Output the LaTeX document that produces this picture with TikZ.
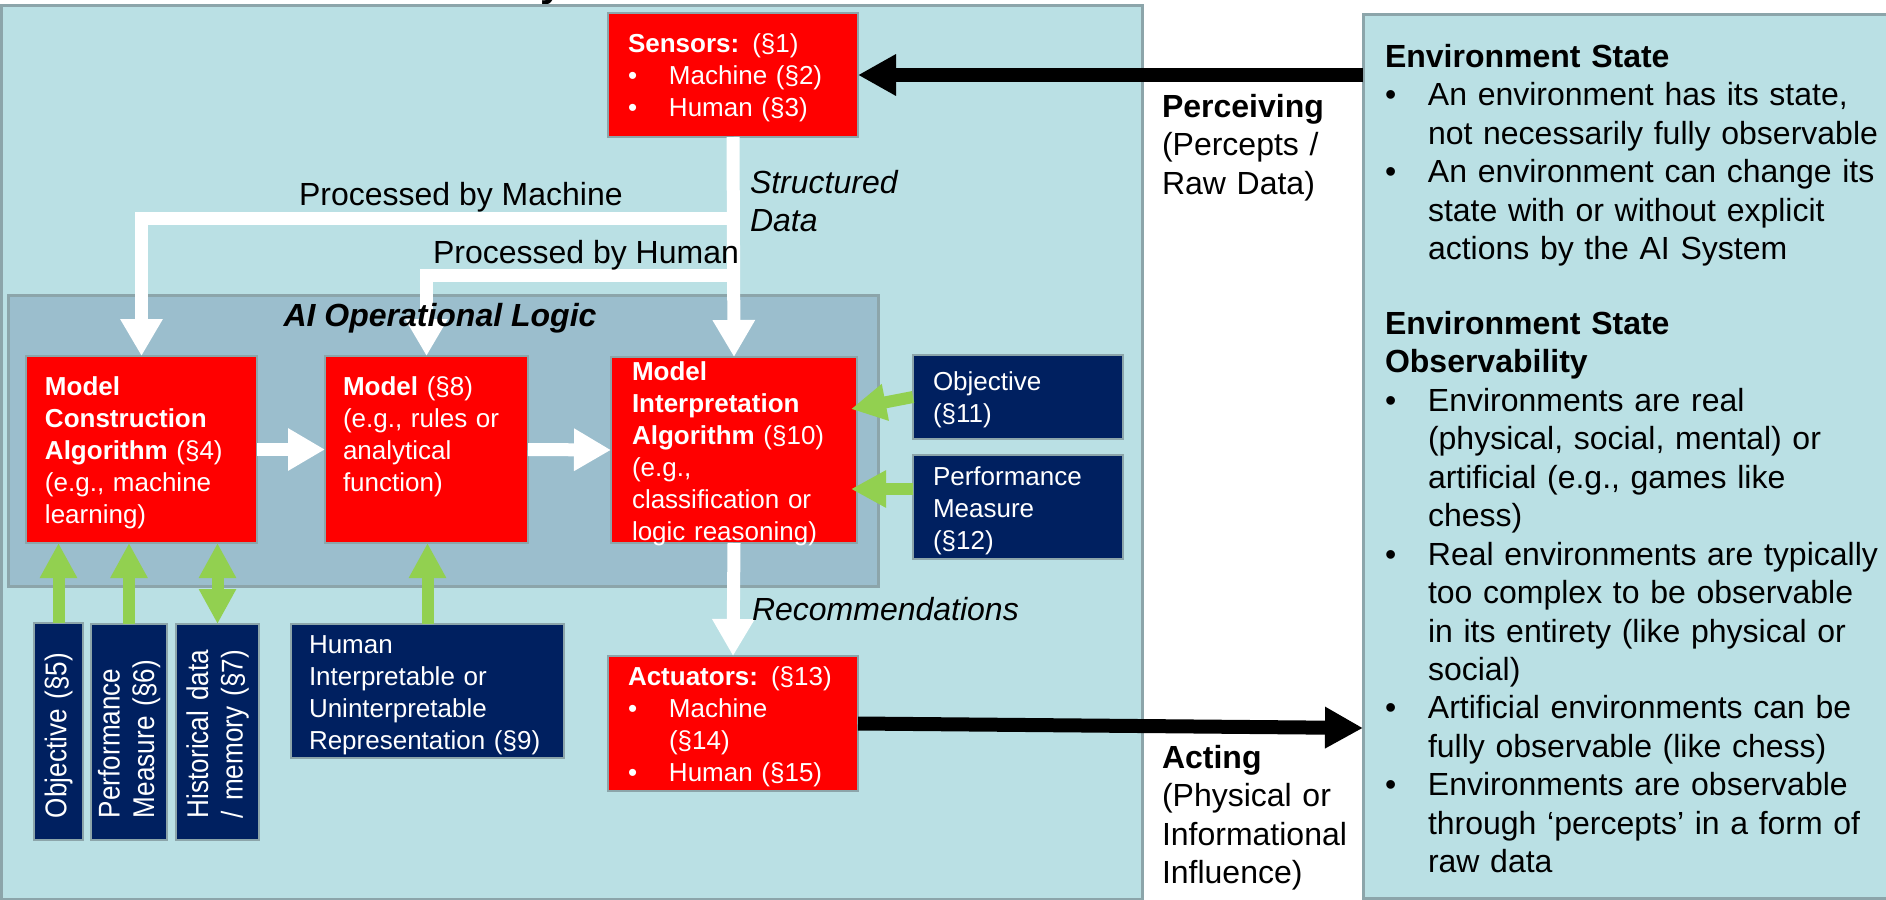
\documentclass[tikz,border=0pt]{standalone}
\usepackage{fontspec}
\setmainfont{Liberation Sans}
\newfontfamily\rotfont[FakeStretch=0.87]{Liberation Sans}
\usetikzlibrary{arrows.meta}
\definecolor{panelblue}{HTML}{BAE0E4}
\definecolor{opblue}{HTML}{9BBECD}
\definecolor{bordergray}{HTML}{8CA5AA}
\definecolor{navy}{HTML}{002060}
\definecolor{lgreen}{HTML}{92D050}
\definecolor{pptred}{HTML}{FF0000}
\newcommand\fbig{\fontsize{16pt}{19.25pt}\selectfont}
\newcommand\fsm{\fontsize{13pt}{16pt}\selectfont}
\newcommand\bulA{\makebox[20.5pt][l]{\textbullet}}
\newcommand\indA{\hspace*{20.5pt}}
\newcommand\bulB{\makebox[21.5pt][l]{\textbullet}}
\newcommand\indB{\hspace*{21.5pt}}
\begin{document}
\begin{tikzpicture}[x=0.5pt,y=-0.5pt,
  every node/.style={inner sep=0pt, outer sep=0pt},
  panel/.style={draw=bordergray, line width=1.5pt, fill=panelblue, rectangle, anchor=north west},
  opbox/.style={draw=bordergray, line width=1.5pt, fill=opblue, rectangle, anchor=north west},
  redbox/.style={draw=bordergray, line width=1pt, fill=pptred, rectangle, anchor=north west},
  navybox/.style={draw=bordergray, line width=1pt, fill=navy, rectangle, anchor=north west},
  wtext/.style={text=white, font=\fsm, align=left, anchor=base west, text width=#1},
  wtext/.default=120pt,
  rtext/.style={text=white, font=\rotfont\fontsize{15pt}{17.25pt}\selectfont, align=left, anchor=west, rotate=90, text width=100pt},
  btext/.style={font=\fbig, align=left, anchor=base west, text width=#1},
  btext/.default=120pt,
  lbl/.style={font=\fbig, anchor=base west},
  warrow/.style={draw=white, line width=6.5pt, line join=miter, -{Triangle[length=18.5pt,width=20pt]}},
  garrow/.style={draw=lgreen, line width=6pt, -{Triangle[length=17.5pt,width=17.5pt]}},
  garrowb/.style={draw=lgreen, line width=6pt, {Triangle[length=17.5pt,width=17.5pt]}-{Triangle[length=17.5pt,width=17.5pt]}},
  barrow/.style={draw=black, line width=7pt, -{Triangle[length=19pt,width=19.5pt]}}
]
\useasboundingbox (0,0) rectangle (1886,900);
% title (cut off at top, as in the original)
\node[font=\fontsize{20pt}{24pt}\selectfont\bfseries, anchor=base west] (ttl) at (463,-4) {AI System};
% panels
\node[panel, minimum width=570.5pt, minimum height=447pt] (lp) at (1,5) {};
\node[panel, minimum width=262.5pt, minimum height=442pt] (env) at (1363,14) {};
\node[opbox, minimum width=435pt, minimum height=145.5pt] (op) at (8,295) {};
% red boxes
\node[redbox, minimum width=125pt, minimum height=62pt] (sens) at (608,13) {};
\node[redbox, minimum width=125pt, minimum height=67.5pt] (act) at (608,656) {};
\node[redbox, minimum width=115.5pt, minimum height=93.5pt] (mca) at (26,356) {};
\node[redbox, minimum width=101.5pt, minimum height=93.5pt] (mod) at (325,356) {};
\node[redbox, minimum width=123pt, minimum height=93pt] (mia) at (611,357) {};
% navy boxes
\node[navybox, minimum width=105pt, minimum height=42pt] (obj2) at (913,355) {};
\node[navybox, minimum width=105pt, minimum height=52pt] (pm2) at (913,455) {};
\node[navybox, minimum width=24.5pt, minimum height=108.5pt] (obj1) at (34,623) {};
\node[navybox, minimum width=38pt, minimum height=108pt] (pm1) at (91,624) {};
\node[navybox, minimum width=41.5pt, minimum height=108pt] (hist) at (176,624) {};
\node[navybox, minimum width=136.5pt, minimum height=67pt] (hir) at (291,624) {};
% white connectors
\coordinate (jm) at (733,218);
\coordinate (jh) at (733,275);
\draw[warrow] (sens.south) -- (mia.north);
\draw[warrow] (jm) -| (mca.north);
\draw[warrow] (jh) -| (mod.north);
\draw[warrow] (mca.east) -- (mod.west);
\draw[warrow] (mod.east) -- (mia.west);
\draw[warrow] (mia.south) -- (act.north);
% green connectors
\draw[garrow] (obj1.north) -- (obj1.north |- mca.south);
\draw[garrow] (pm1.north) -- (pm1.north |- mca.south);
\draw[garrowb] (hist.north) -- (hist.north |- mca.south);
\draw[garrow] (hir.north) -- (hir.north |- mod.south);
\coordinate (t11) at (851,409);
\coordinate (t12) at (851,489);
\draw[garrow] (obj2.west) -- (t11);
\draw[garrow] (pm2.west |- t12) -- (t12);
% black connectors
\coordinate (ta) at (1363,728);
\draw[barrow] (env.west |- sens.east) -- (sens.east);
\draw[barrow] (act.east) -- (ta);
% texts in boxes
\node[font=\fbig\bfseries\itshape, anchor=base] (opt) at (440,326) {AI Operational Logic};
\node[wtext] (senst) at (628,52) {\textbf{Sensors:} (§1)\\ \bulA Machine (§2)\\ \bulA Human (§3)};
\node[wtext] (actt) at (628,685) {\textbf{Actuators:} (§13)\\ \bulA Machine\\ \indA(§14)\\ \bulA Human (§15)};
\node[wtext] (mcat) at (45,395) {\textbf{Model}\\ \textbf{Construction}\\ \textbf{Algorithm} (§4)\\ (e.g., machine\\ learning)};
\node[wtext] (modt) at (343,395) {\textbf{Model} (§8)\\ (e.g., rules or\\ analytical\\ function)};
\node[wtext] (miat) at (632,380) {\textbf{Model}\\ \textbf{Interpretation}\\ \textbf{Algorithm} (§10)\\ (e.g.,\\ classification or\\ logic reasoning)};
\node[wtext] (obj2t) at (933,390) {Objective\\ (§11)};
\node[wtext] (pm2t) at (933,485) {Performance\\ Measure\\ (§12)};
\node[wtext] (hirt) at (309,653) {Human\\ Interpretable or\\ Uninterpretable\\ Representation (§9)};
\node[rtext] (obj1t) at (58.5,818) {Objective (§5)};
\node[rtext] (pm1t) at (129,818) {Performance\\ Measure (§6)};
\node[rtext] (histt) at (217.5,818) {Historical data\\ / memory (§7)};
% labels
\node[lbl] (lm) at (299,205) {Processed by Machine};
\node[lbl] (lh) at (433,263) {Processed by Human};
\node[btext=70pt, font=\fbig\itshape] (lsd) at (750,193) {Structured\\ Data};
\node[lbl, font=\fbig\itshape] (lrec) at (752,620) {Recommendations};
\node[btext] (lper) at (1162,117) {\textbf{Perceiving}\\ (Percepts /\\ Raw Data)};
\node[btext] (lact) at (1162,768) {\textbf{Acting}\\ (Physical or\\ Informational\\ Influence)};
% environment text
\node[btext=262pt] (envt) at (1385,67) {\textbf{Environment State}\\
\bulB An environment has its state,\\
\indB not necessarily fully observable\\
\bulB An environment can change its\\
\indB state with or without explicit\\
\indB actions by the AI System\\[18pt]
\textbf{Environment State}\\
\textbf{Observability}\\
\bulB Environments are real\\
\indB (physical, social, mental) or\\
\indB artificial (e.g., games like\\
\indB chess)\\
\bulB Real environments are typically\\
\indB too complex to be observable\\
\indB in its entirety (like physical or\\
\indB social)\\
\bulB Artificial environments can be\\
\indB fully observable (like chess)\\
\bulB Environments are observable\\
\indB through ‘percepts’ in a form of\\
\indB raw data};
\end{tikzpicture}
\end{document}
